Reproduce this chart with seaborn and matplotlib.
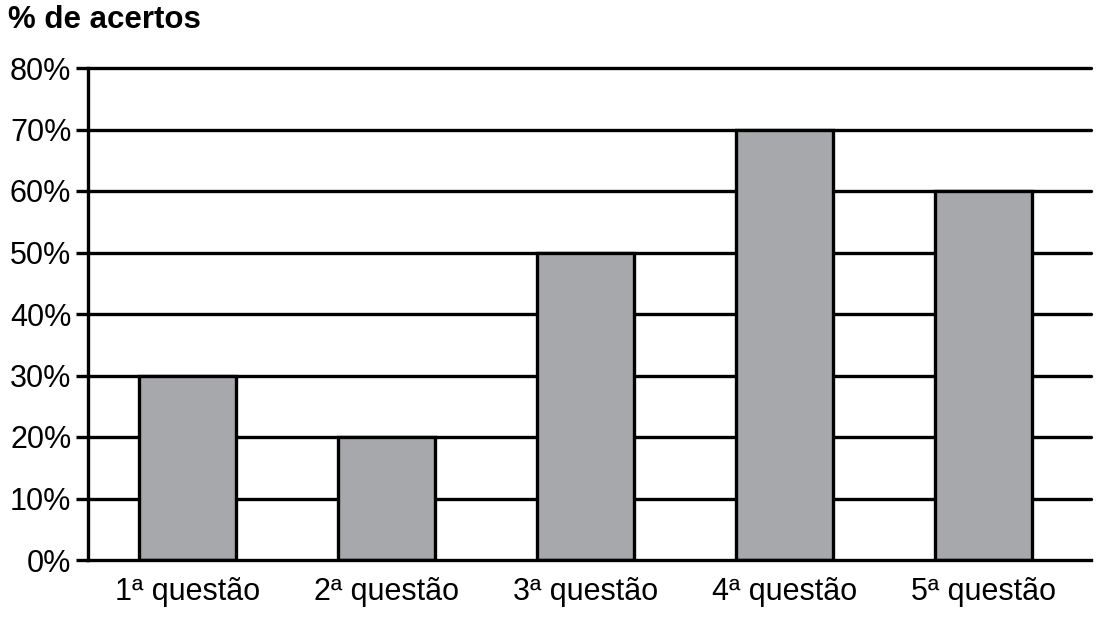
import matplotlib
matplotlib.use("Agg")
import matplotlib.pyplot as plt
import seaborn as sns
import pandas as pd

categories = ["1ª questão", "2ª questão", "3ª questão", "4ª questão", "5ª questão"]
values = [30, 20, 50, 70, 60]
yticks = [0, 10, 20, 30, 40, 50, 60, 70, 80]
ytick_labels = [f"{v}%" for v in yticks]

sns.set_theme(style="white")
plt.rcParams['font.family'] = ['Liberation Sans', 'DejaVu Sans']

df = pd.DataFrame({"cat": categories, "val": values})

fig = plt.figure(figsize=(11.08, 6.2), dpi=100)
ax = fig.add_axes([88/1108, 1 - 560/620, (1091-88)/1108, (560-68)/620])

LW = 2.4
for y in yticks[1:]:
    ax.axhline(y, color="black", lw=LW, zorder=0, clip_on=False)

sns.barplot(data=df, x="cat", y="val", color="#a7a8ab", width=0.49,
            edgecolor="black", linewidth=LW, saturation=1, ax=ax, zorder=2)

ax.set_ylim(0, 80)
ax.set_xlim(-0.5, 4.54)
ax.set_yticks(yticks)
ax.set_yticklabels(ytick_labels, fontsize=22)
ax.tick_params(axis="x", labelsize=22, length=0, pad=12, colors="black")
ax.tick_params(axis="y", length=9, width=LW, color="black", pad=3, left=True,
               labelcolor="black")
ax.set_xlabel("")
ax.set_ylabel("")
for s in ["top", "right"]:
    ax.spines[s].set_visible(False)
for s in ["left", "bottom"]:
    ax.spines[s].set_color("black")
    ax.spines[s].set_linewidth(LW)
ax.spines["bottom"].set_zorder(3)

fig.text(8/1108, 1 - 28/620, "% de acertos", fontsize=22.5, fontweight="bold",
         ha="left", va="baseline", color="black")

fig.savefig("out.png", dpi=100, facecolor="white")
